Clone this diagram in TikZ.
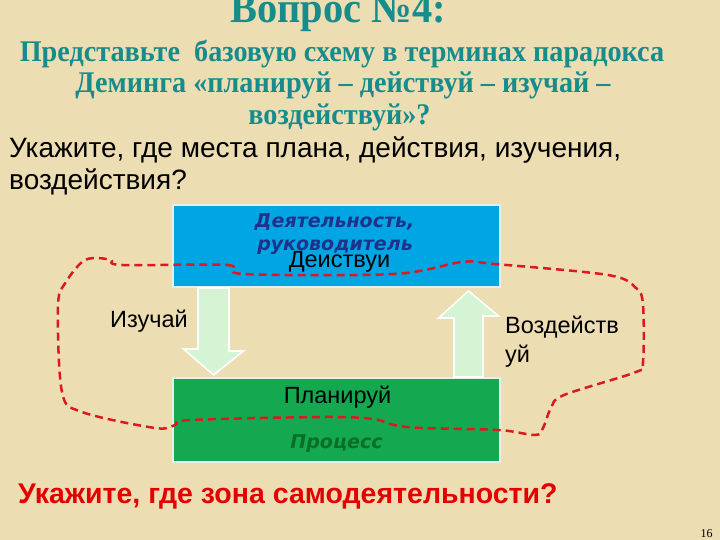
\documentclass[tikz,border=0pt]{standalone}
\usepackage{fontspec}
\setmainfont{Liberation Sans}
\newfontfamily\headfont[FakeStretch=0.94]{Liberation Serif}
\newfontfamily\pagefont{Liberation Serif}
\newfontfamily\boxfont{DejaVu Sans}
\usetikzlibrary{calc}
\definecolor{paper}{RGB}{236,221,178}
\definecolor{headteal}{RGB}{22,140,140}
\definecolor{actblue}{RGB}{0,166,228}
\definecolor{planGreen}{RGB}{20,168,80}
\definecolor{darkblueText}{RGB}{30,50,140}
\definecolor{darkgreenText}{RGB}{10,110,40}
\definecolor{arrowGreen}{RGB}{212,244,212}
\definecolor{zoneRed}{RGB}{220,25,30}
\definecolor{askRed}{RGB}{228,0,0}

\begin{document}
\begin{tikzpicture}
[every node/.style={inner sep=0pt},
 blockbox/.style={rectangle, minimum width=327pt, line width=2pt, draw={rgb,255:red,232;green,238;blue,238}},
 blockarrow/.style={fill=arrowGreen, draw=white, line width=1.6pt, line join=miter},
 plaintext/.style={font=\fontsize{23.5}{23.5}\selectfont},
 boxtext/.style={font=\boxfont\bfseries\itshape\fontsize{19}{19}\selectfont}]
\fill [paper] (0pt,0pt) rectangle (720pt,-540pt);
\useasboundingbox (0pt,0pt) rectangle (720pt,-540pt);
% heading
\node (title) [anchor=base, color=headteal, font=\headfont\bfseries\fontsize{43}{43}\selectfont] at (338pt,-23pt) {Вопрос №4:};
\node (sub1) [anchor=base, color=headteal, font=\headfont\bfseries\fontsize{30}{30}\selectfont] at (342pt,-62pt) {Представьте\ \ базовую схему в терминах парадокса};
\node (sub2) [anchor=base, color=headteal, font=\headfont\bfseries\fontsize{30}{30}\selectfont] at (343pt,-93pt) {Деминга «планируй – действуй – изучай –};
\node (sub3) [anchor=base, color=headteal, font=\headfont\bfseries\fontsize{30}{30}\selectfont] at (339.5pt,-125pt) {воздействуй»?};
\node (ask1) [anchor=base west, font=\fontsize{28}{28}\selectfont] at (9pt,-158pt) {Укажите, где места плана, действия, изучения,};
\node (ask2) [anchor=base west, font=\fontsize{28}{28}\selectfont] at (9pt,-190pt) {воздействия?};
% boxes
\node (act) [blockbox, minimum height=82pt, fill=actblue] at (336.5pt,-246pt) {};
\node (plan) [blockbox, minimum height=84pt, fill=planGreen] at (336.5pt,-420pt) {};
\node (actwho1) [anchor=base, boxtext, color=darkblueText] at (334.5pt,-227pt) {Деятельность,};
\node (actwho2) [anchor=base, boxtext, color=darkblueText] at (335pt,-250pt) {руководитель};
\node (actname) [anchor=base, plaintext] at (339.5pt,-267pt) {Деиствуи};
\node (planname) [anchor=base, plaintext] at (337.5pt,-403pt) {Планируй};
\node (planwho) [anchor=base, boxtext, color=darkgreenText] at (336.5pt,-448pt) {Процесс};
% block arrows
\coordinate (studytop) at ($(act.south west)+(41.5pt,0pt)$);
\coordinate (studytip) at ($(plan.north west)+(41.5pt,2pt)$);
\coordinate (acttop) at ($(plan.north east)+(-32.5pt,0pt)$);
\coordinate (acttip) at ($(act.south east)+(-32.5pt,-3pt)$);
\draw [blockarrow] (studytop) ++(-15.5pt,0pt) -- ++(31pt,0pt) -- ++(0pt,-63pt) -- ++(14.5pt,0pt) -- (studytip) -- ++(-30pt,26pt) -- ++(14.5pt,0pt) -- cycle;
\draw [blockarrow] (acttop) ++(-14.5pt,0pt) -- ++(29pt,0pt) -- ++(0pt,61pt) -- ++(15.5pt,0pt) -- (acttip) -- ++(-30pt,-27pt) -- ++(15.5pt,0pt) -- cycle;
\node (study) [anchor=base west, plaintext] at (110pt,-327pt) {Изучай};
\node (act1) [anchor=base west, plaintext] at (505pt,-333pt) {Воздейств};
\node (act2) [anchor=base west, plaintext] at (505pt,-362pt) {уй};
% zone of self-activity
\draw [zoneRed, line width=2.5pt, dash pattern=on 8pt off 5pt] plot [smooth cycle, tension=0.55] coordinates {
 (122pt,-265pt) (227pt,-265pt) (244pt,-274pt) (394pt,-274pt) (462pt,-262pt) (495pt,-264pt)
 (608pt,-275pt) (636pt,-288pt) (643pt,-305pt) (643pt,-362pt) (636pt,-372pt) (564pt,-395pt)
 (551pt,-408pt) (543pt,-428pt) (535pt,-435pt) (499pt,-430pt) (422pt,-428pt) (394pt,-425pt)
 (373pt,-419pt) (325pt,-417pt) (191pt,-420pt) (175pt,-425pt) (155pt,-428pt) (82pt,-412pt)
 (62pt,-392pt) (58pt,-305pt) (66pt,-282pt) (82pt,-262pt) (95pt,-258pt) (111pt,-260pt)};
\node (zone) [anchor=base west, color=askRed, font=\bfseries\fontsize{28.5}{28.5}\selectfont] at (18pt,-503pt) {Укажите, где зона самодеятельности?};
\node (page) [anchor=base, font=\pagefont\fontsize{12}{12}\selectfont] at (706.5pt,-537pt) {16};
\end{tikzpicture}
\end{document}
